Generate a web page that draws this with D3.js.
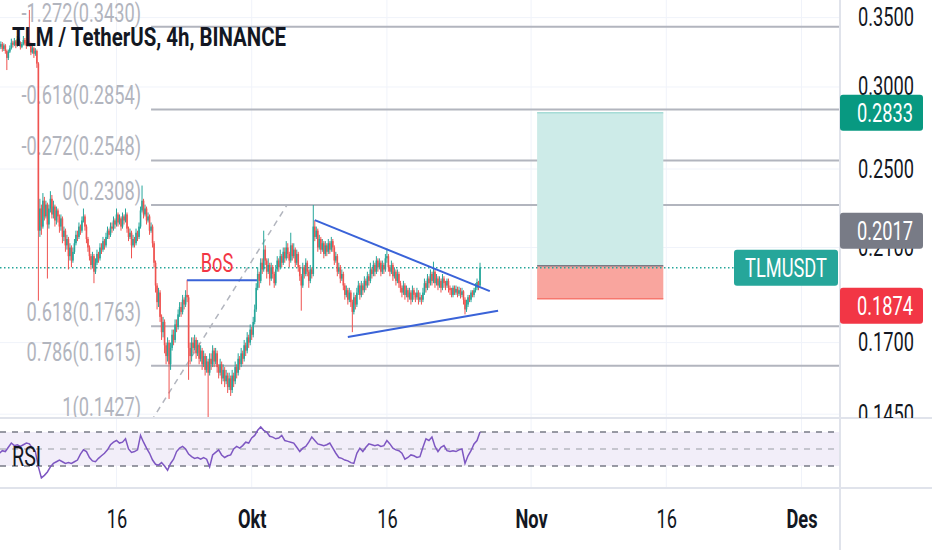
<!DOCTYPE html>
<html>
<head>
<meta charset="utf-8">
<script src="https://cdn.jsdelivr.net/npm/d3@7"></script>
<style>
  body { margin: 0; background: #fff; }
  text { font-family: Roboto, "Noto Sans", sans-serif; }
</style>
</head>
<body>
<div id="container"></div>
<script>
// ---- data (prices in units of 0.0001) ----
const firstBar = Date.UTC(2021, 8, 3, 0);
const barMs = 4 * 3600 * 1000;
const firstOpen = 3260;

const closes = [
  3280,3300,3265,3290,3250,3200,3245,3270,3310,3295,
  3320,3290,3335,3310,3280,3300,3330,3305,3290,3320,
  3300,3240,3270,3230,3250,3160,2180,2290,2200,2330,
  2250,2310,2210,2290,2340,2260,2300,2230,2280,2250,
  2200,2240,2150,2180,2110,2140,2060,2100,2040,2080,
  2120,2160,2150,2200,2180,2230,2250,2200,2140,2100,
  2060,2020,2060,1990,2030,2070,2050,2100,2090,2130,
  2110,2150,2180,2160,2200,2190,2230,2210,2260,2220,
  2240,2200,2250,2230,2260,2190,2150,2170,2110,2140,
  2120,2170,2150,2200,2280,2330,2260,2290,2230,2250,
  2180,2200,2120,2030,1930,1860,1900,1800,1740,1780,
  1690,1650,1700,1620,1680,1730,1710,1770,1760,1810,
  1840,1820,1870,1850,1890,1880,1680,1650,1700,1680,
  1710,1660,1690,1640,1670,1620,1650,1600,1630,1590,
  1640,1620,1670,1630,1660,1610,1590,1620,1570,1600,
  1560,1580,1540,1570,1530,1580,1560,1610,1590,1640,
  1620,1660,1640,1690,1670,1720,1700,1750,1730,1780,
  1830,1920,1980,1950,2030,2000,2090,2040,1990,2020,
  1960,2010,1980,1940,2000,2040,2010,2060,2030,2080,
  2050,2100,2070,2040,2110,2060,2090,2030,2070,2010,
  1970,1930,2010,1980,2030,1990,1950,2000,1980,2200,
  2150,2180,2100,2140,2090,2120,2070,2110,2080,2120,
  2090,2130,2100,2040,2060,1990,2010,1960,1980,1930,
  1890,1910,1870,1900,1860,1820,1880,1850,1900,1930,
  1890,1930,1910,1950,1930,1970,1950,2000,1980,2020,
  1990,2040,2010,2030,1990,2020,2000,2050,2060,2010,
  1990,2020,1970,1990,1950,1980,1940,1920,1900,1930,
  1890,1910,1880,1900,1870,1910,1890,1880,1900,1870,
  1880,1870,1900,1940,1920,1960,1940,1980,1950,1990,
  1940,1960,1930,1950,1920,1960,1940,1930,1950,1920,
  1910,1890,1920,1900,1915,1895,1910,1890,1905,1870,
  1830,1850,1880,1870,1900,1890,1910,1920,1945,1930,
  2008
];
const highs = [
  3310,3320,3315,3305,3300,3260,3260,3290,3340,3325,
  3345,3330,3360,3350,3320,3315,3360,3345,3315,3340,
  3560,3310,3290,3280,3270,3260,3170,2340,2310,2370,
  2350,2330,2320,2310,2380,2360,2330,2310,2300,2290,
  2260,2260,2250,2200,2190,2160,2150,2120,2110,2100,
  2140,2180,2180,2220,2210,2250,2290,2260,2210,2150,
  2110,2070,2080,2070,2050,2090,2080,2120,2120,2150,
  2140,2170,2200,2190,2220,2220,2250,2240,2290,2270,
  2260,2250,2270,2260,2290,2270,2200,2190,2180,2160,
  2150,2190,2180,2220,2300,2410,2340,2310,2300,2270,
  2260,2220,2210,2130,2040,1940,1920,1910,1810,1800,
  1790,1700,1720,1710,1700,1750,1750,1790,1790,1830,
  1860,1860,1890,1880,1910,1955,1890,1700,1720,1720,
  1730,1720,1710,1700,1690,1680,1670,1660,1650,1640,
  1660,1660,1690,1680,1680,1670,1620,1640,1630,1620,
  1610,1600,1590,1590,1580,1600,1590,1630,1620,1660,
  1650,1680,1670,1710,1700,1740,1730,1770,1760,1800,
  1850,1940,2010,1990,2050,2050,2180,2110,2050,2050,
  2030,2030,2020,1990,2020,2060,2050,2090,2070,2100,
  2100,2130,2120,2080,2170,2120,2120,2100,2090,2080,
  2020,1980,2030,2020,2050,2040,2000,2020,2010,2308,
  2230,2200,2190,2160,2150,2140,2130,2130,2120,2140,
  2130,2150,2140,2110,2080,2070,2030,2020,2000,1990,
  1940,1930,1920,1920,1910,1870,1900,1890,1920,1950,
  1940,1950,1940,1970,1960,1990,1980,2030,2010,2040,
  2030,2060,2050,2050,2040,2040,2030,2070,2095,2070,
  2020,2040,2030,2010,2000,2000,1990,1950,1930,1950,
  1940,1930,1920,1920,1910,1930,1920,1900,1920,1910,
  1900,1890,1920,1960,1950,1980,1970,2000,1990,2035,
  2000,1980,1970,1970,1960,1980,1970,1950,1960,1960,
  1930,1920,1930,1930,1930,1925,1925,1920,1920,1910,
  1880,1870,1890,1890,1910,1910,1920,1940,1960,1950,
  2030
];
const lows = [
  3240,3265,3245,3250,3230,3115,3185,3235,3260,3275,
  3285,3270,3280,3295,3260,3270,3290,3290,3265,3280,
  3280,3220,3230,3200,3215,3130,1866,2150,2160,2190,
  2230,2240,1960,2190,2270,2240,2240,2200,2210,2220,
  2170,2180,2120,2130,2080,2090,2000,2040,2010,2030,
  2070,2110,2130,2140,2160,2170,2220,2180,2120,2080,
  2040,2000,2010,1940,1980,2020,2030,2040,2070,2080,
  2090,2100,2140,2140,2150,2170,2180,2190,2200,2200,
  2210,2180,2190,2210,2220,2170,2130,2140,2050,2100,
  2100,2110,2130,2140,2190,2270,2240,2250,2210,2220,
  2160,2170,2100,2010,1900,1830,1840,1780,1710,1720,
  1660,1620,1630,1500,1600,1670,1690,1700,1740,1750,
  1800,1800,1810,1830,1840,1860,1565,1620,1630,1660,
  1670,1640,1650,1620,1630,1600,1610,1580,1590,1440,
  1580,1600,1610,1610,1620,1590,1570,1580,1550,1560,
  1540,1550,1520,1530,1510,1520,1540,1550,1570,1580,
  1600,1610,1620,1630,1650,1660,1680,1690,1710,1720,
  1770,1820,1910,1920,1940,1980,1990,2020,1960,1980,
  1930,1950,1960,1920,1930,1990,1990,2000,2010,2020,
  2030,2040,2050,2010,2030,2040,2050,2010,2020,1990,
  1950,1825,1920,1960,1970,1970,1920,1940,1960,1970,
  2130,2140,2080,2090,2070,2080,2050,2060,2060,2070,
  2070,2080,2080,2020,2030,1970,1980,1940,1950,1910,
  1870,1880,1850,1860,1840,1740,1810,1830,1840,1890,
  1870,1880,1890,1900,1910,1920,1930,1940,1960,1970,
  1970,1980,1990,2000,1970,1980,1980,1990,2030,1990,
  1970,1980,1950,1960,1930,1940,1920,1900,1880,1890,
  1870,1880,1860,1870,1850,1860,1870,1860,1870,1850,
  1860,1850,1860,1890,1900,1910,1920,1930,1930,1940,
  1920,1930,1910,1920,1900,1910,1920,1910,1920,1900,
  1890,1880,1880,1890,1890,1880,1885,1875,1880,1850,
  1810,1820,1840,1860,1860,1880,1880,1900,1910,1910,
  1920
];
// RSI(14), one value every second bar
const rsiValues = [
  45,48,47,52,57,54,55,53,55,57,
  56,51,47,29,16,19,23,29,33,35,
  37,35,33,34,33,35,37,44,49,47,
  40,36,35,39,42,45,49,55,58,60,
  57,58,62,50,46,47,49,66,58,51,
  45,37,32,31,34,30,25,33,38,47,
  51,53,50,44,41,39,40,38,40,38,
  29,43,46,49,43,40,42,43,50,53,
  51,54,58,57,63,66,72,76,72,70,
  65,64,62,63,66,60,59,58,57,52,
  47,51,53,58,64,60,56,55,54,55,
  57,51,45,40,39,37,36,34,33,45,
  51,47,52,56,55,54,55,53,54,60,
  56,51,49,48,45,38,40,43,42,40,
  41,52,62,60,64,53,47,52,54,48,
  47,48,47,49,50,33,42,48,56,60,
  70
];

const priceTicks = [0.35, 0.30, 0.25, 0.21, 0.17, 0.145];
const timeTicks = [Date.UTC(2021, 8, 16), Date.UTC(2021, 9, 1), Date.UTC(2021, 9, 16),
                   Date.UTC(2021, 10, 1), Date.UTC(2021, 10, 16), Date.UTC(2021, 11, 1)];
const timeLabels = ["16", "Okt", "16", "Nov", "16", "Des"];

const fibLevels = ["-1.272", "-0.618", "-0.272", "0", "0.618", "0.786", "1"];
const fibPrices = [0.3430, 0.2854, 0.2548, 0.2308, 0.1763, 0.1615, 0.1427];
const fibAnchors = [{t: Date.UTC(2021, 8, 19, 20), p: 0.1427}, {t: Date.UTC(2021, 9, 4, 22), p: 0.2308}];
const bosLine = [{t: Date.UTC(2021, 8, 23, 20), p: 0.1953}, {t: Date.UTC(2021, 9, 1, 14), p: 0.1953}];
const upperTrend = [{t: Date.UTC(2021, 9, 8, 0), p: 0.2232}, {t: Date.UTC(2021, 9, 27, 10), p: 0.1906}];
const lowerTrend = [{t: Date.UTC(2021, 9, 11, 16), p: 0.1721}, {t: Date.UTC(2021, 9, 28, 8), p: 0.1825}];
const position = {from: Date.UTC(2021, 10, 1, 16), to: Date.UTC(2021, 10, 15, 16), target: 0.2833, entry: 0.2017, stop: 0.1874};
const lastPrice = 0.2008;

// ---- layout ----
const width = 932, height = 550;
const paneRight = 840;
const priceBottom = 418, rsiBottom = 488;
const SX = 0.73;   // the screenshot text is horizontally condensed
const up = "#26a69a", down = "#ef5350";

const bars = closes.map((c, i) => ({
  t: new Date(firstBar + i * barMs),
  o: (i ? closes[i - 1] : firstOpen) / 1e4,
  h: highs[i] / 1e4,
  l: lows[i] / 1e4,
  c: c / 1e4
}));

const x = d3.scaleUtc()
  .domain([timeTicks[0], timeTicks[5]])
  .range([116.5, 801.5]);

const y = d3.scaleLog()
  .domain([0.145, 0.35])
  .range([414.2, 17.6]);

const rsiY = d3.scaleLinear()
  .domain([30, 70])
  .range([466, 432]);

function squeeze(sel, sx = SX) {
  sel.each(function () {
    const t = d3.select(this);
    const tx = +t.attr("x") || 0, ty = +t.attr("y") || 0;
    t.attr("transform", `translate(${tx},${ty}) scale(${sx},1) translate(${-tx},${-ty})`);
  });
}

const svg = d3.select("#container").append("svg")
  .attr("width", width)
  .attr("height", height);

const defs = svg.append("defs");
defs.append("clipPath").attr("id", "clipPrice")
  .append("rect").attr("x", 0).attr("y", 0).attr("width", paneRight).attr("height", priceBottom);
defs.append("clipPath").attr("id", "clipRsi")
  .append("rect").attr("x", 0).attr("y", priceBottom).attr("width", paneRight).attr("height", rsiBottom - priceBottom);
defs.append("clipPath").attr("id", "clipAxis")
  .append("rect").attr("x", paneRight).attr("y", 0).attr("width", width - paneRight).attr("height", priceBottom);

// grid
const grid = svg.append("g").attr("stroke", "#f0f3fa").attr("stroke-width", 1);
grid.selectAll("line.v")
  .data(timeTicks)
  .join("line")
  .attr("class", "v")
  .attr("x1", d => x(d)).attr("x2", d => x(d))
  .attr("y1", 0).attr("y2", rsiBottom);
grid.selectAll("line.h")
  .data(priceTicks)
  .join("line")
  .attr("class", "h")
  .attr("x1", 0).attr("x2", paneRight)
  .attr("y1", d => y(d)).attr("y2", d => y(d));

const price = svg.append("g").attr("clip-path", "url(#clipPrice)");

// fibonacci retracement
const fibX = x(fibAnchors[0].t);
price.append("g")
  .attr("stroke", "#b2b5be")
  .attr("stroke-width", 2)
  .selectAll("line")
  .data(fibPrices)
  .join("line")
  .attr("x1", fibX).attr("x2", paneRight)
  .attr("y1", d => y(d)).attr("y2", d => y(d));

price.append("line")
  .attr("x1", x(fibAnchors[0].t)).attr("y1", y(fibAnchors[0].p))
  .attr("x2", x(fibAnchors[1].t)).attr("y2", y(fibAnchors[1].p))
  .attr("stroke", "#b2b5be")
  .attr("stroke-width", 1.5)
  .attr("stroke-dasharray", "6,5");

price.append("g")
  .selectAll("text")
  .data(fibPrices)
  .join("text")
  .attr("x", fibX - 10)
  .attr("y", d => y(d) - 5)
  .attr("text-anchor", "end")
  .attr("font-size", 25)
  .attr("fill", "#b2b5be")
  .text((d, i) => `${fibLevels[i]}(${d.toFixed(4)})`)
  .call(squeeze);

// long position tool
const px0 = x(position.from), px1 = x(position.to);
price.append("rect")
  .attr("x", px0).attr("width", px1 - px0)
  .attr("y", y(position.target)).attr("height", y(position.entry) - y(position.target))
  .attr("fill", "#cdebe8");
price.append("rect")
  .attr("x", px0).attr("width", px1 - px0)
  .attr("y", y(position.entry)).attr("height", y(position.stop) - y(position.entry))
  .attr("fill", "#f9a59e");
price.append("line")
  .attr("x1", px0).attr("x2", px1)
  .attr("y1", y(position.target)).attr("y2", y(position.target))
  .attr("stroke", "#a6dcd6").attr("stroke-width", 1.5);
price.append("line")
  .attr("x1", px0).attr("x2", px1)
  .attr("y1", y(position.entry)).attr("y2", y(position.entry))
  .attr("stroke", "#787b86").attr("stroke-width", 1.5);
price.append("line")
  .attr("x1", px0).attr("x2", px1)
  .attr("y1", y(position.stop)).attr("y2", y(position.stop))
  .attr("stroke", "#f7776d").attr("stroke-width", 1.5);

// last price dotted line
price.append("line")
  .attr("x1", 0).attr("x2", 734)
  .attr("y1", y(lastPrice)).attr("y2", y(lastPrice))
  .attr("stroke", up)
  .attr("stroke-width", 1.5)
  .attr("stroke-dasharray", "1.5,2.5");

// candles
const candles = price.append("g");
candles.selectAll("line")
  .data(bars)
  .join("line")
  .attr("x1", d => x(d.t)).attr("x2", d => x(d.t))
  .attr("y1", d => y(d.h)).attr("y2", d => y(d.l))
  .attr("stroke", d => d.c >= d.o ? up : down)
  .attr("stroke-width", 1);
candles.selectAll("rect")
  .data(bars)
  .join("rect")
  .attr("x", d => x(d.t) - 0.8)
  .attr("width", 1.6)
  .attr("y", d => y(Math.max(d.o, d.c)))
  .attr("height", d => Math.max(1, Math.abs(y(d.o) - y(d.c))))
  .attr("fill", d => d.c >= d.o ? up : down);

// trend lines and BoS
const line = d3.line().x(d => x(d.t)).y(d => y(d.p));
[bosLine, upperTrend, lowerTrend].forEach(seg => {
  price.append("path")
    .attr("d", line(seg))
    .attr("fill", "none")
    .attr("stroke", "#3a63d8")
    .attr("stroke-width", 2);
});
price.append("text")
  .attr("x", (x(bosLine[0].t) + x(bosLine[1].t)) / 2 - 5)
  .attr("y", y(bosLine[0].p) - 8)
  .attr("text-anchor", "middle")
  .attr("font-size", 25)
  .attr("fill", "#f23645")
  .text("BoS")
  .call(squeeze);

// title
svg.append("text")
  .attr("x", 12)
  .attr("y", 46)
  .attr("font-size", 26)
  .attr("font-weight", 700)
  .attr("fill", "#131722")
  .text("TLM / TetherUS, 4h, BINANCE")
  .call(squeeze, 0.785);

// RSI pane
const rsi = svg.append("g").attr("clip-path", "url(#clipRsi)");
rsi.append("rect")
  .attr("x", 0).attr("width", paneRight)
  .attr("y", rsiY(70)).attr("height", rsiY(30) - rsiY(70))
  .attr("fill", "#f2eef9");
rsi.selectAll("line.lvl")
  .data([70, 50, 30])
  .join("line")
  .attr("class", "lvl")
  .attr("x1", 0).attr("x2", paneRight)
  .attr("y1", d => rsiY(d)).attr("y2", d => rsiY(d))
  .attr("stroke", d => d === 50 ? "#b6b8c0" : "#787b86")
  .attr("stroke-width", 1.5)
  .attr("stroke-dasharray", "6,6");
rsi.append("path")
  .attr("d", d3.line()
    .x((d, i) => x(bars[i * 2].t))
    .y(d => rsiY(d))(rsiValues))
  .attr("fill", "none")
  .attr("stroke", "#7e57c2")
  .attr("stroke-width", 1.5);
svg.append("text")
  .attr("x", 12)
  .attr("y", 466)
  .attr("font-size", 27)
  .attr("fill", "#131722")
  .text("RSI")
  .call(squeeze);

// separators
const sep = svg.append("g").attr("stroke", "#e0e3eb").attr("stroke-width", 2);
sep.append("line").attr("x1", 0).attr("x2", width).attr("y1", priceBottom).attr("y2", priceBottom);
sep.append("line").attr("x1", 0).attr("x2", width).attr("y1", rsiBottom).attr("y2", rsiBottom);
sep.append("line").attr("x1", paneRight).attr("x2", paneRight).attr("y1", 0).attr("y2", height);

// price axis
const yAxis = svg.append("g")
  .attr("clip-path", "url(#clipAxis)")
  .append("g")
  .attr("transform", `translate(${paneRight},0)`)
  .call(d3.axisRight(y).tickValues(priceTicks).tickFormat(d3.format(".4f")).tickSize(0).tickPadding(18));
yAxis.select(".domain").remove();
yAxis.selectAll("text")
  .attr("font-size", 25)
  .attr("font-family", "Roboto")
  .attr("fill", "#131722")
  .call(squeeze);

// time axis
const xAxis = svg.append("g")
  .attr("transform", `translate(0,${rsiBottom})`)
  .call(d3.axisBottom(x).tickValues(timeTicks).tickFormat((d, i) => timeLabels[i]).tickSize(0).tickPadding(22));
xAxis.select(".domain").remove();
xAxis.selectAll("text")
  .attr("font-size", 25)
  .attr("font-family", "Roboto")
  .attr("font-weight", (d, i) => i % 2 ? 700 : 400)
  .attr("fill", "#131722")
  .call(squeeze);

// axis price labels
const axisLabels = [
  {v: position.target, text: "0.2833", fill: "#089981", shift: 0},
  {v: position.entry, text: "0.2017", fill: "#787b86", shift: -35},
  {v: position.stop, text: "0.1874", fill: "#f23645", shift: 7}
];
const lab = svg.append("g")
  .selectAll("g")
  .data(axisLabels)
  .join("g")
  .attr("transform", d => `translate(${paneRight},${y(d.v) + d.shift})`);
lab.append("rect")
  .attr("x", 0).attr("y", -18)
  .attr("width", 83).attr("height", 36)
  .attr("rx", 3)
  .attr("fill", d => d.fill);
lab.append("text")
  .attr("x", 17).attr("y", 9)
  .attr("font-size", 25)
  .attr("fill", "#fff")
  .text(d => d.text)
  .call(squeeze);

const sym = svg.append("g")
  .attr("transform", `translate(734,${y(lastPrice)})`);
sym.append("rect")
  .attr("x", 0).attr("y", -18)
  .attr("width", 104).attr("height", 36)
  .attr("rx", 3)
  .attr("fill", up);
sym.append("text")
  .attr("x", 52).attr("y", 9)
  .attr("text-anchor", "middle")
  .attr("font-size", 25)
  .attr("fill", "#fff")
  .text("TLMUSDT")
  .call(squeeze);
</script>
</body>
</html>
